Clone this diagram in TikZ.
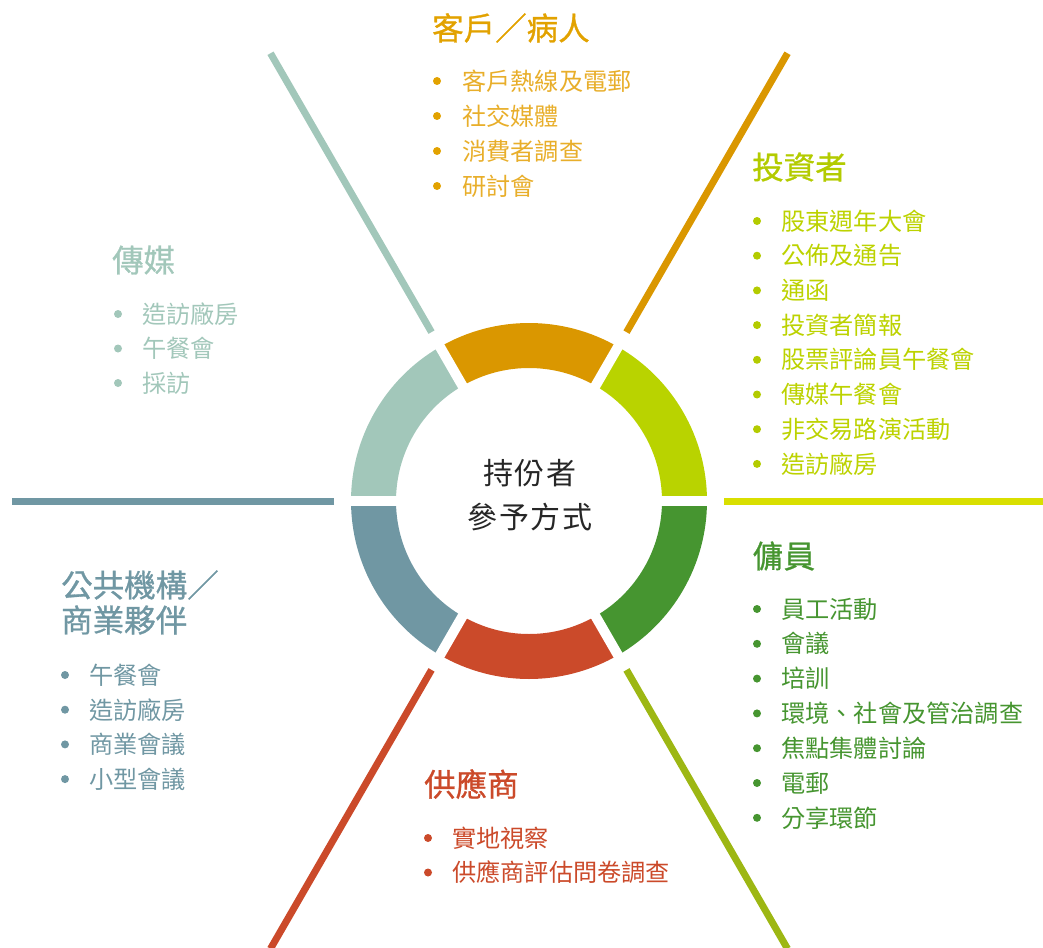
\documentclass[tikz,border=0pt]{standalone}
\usepackage{fontspec}
\newfontfamily\cjk{Noto Sans CJK TC}
\newfontfamily\cjkt[FakeBold=0.9]{Noto Sans CJK TC}
\newfontfamily\cjkc[LetterSpace=6]{Noto Sans CJK TC}
\definecolor{cOrange}{HTML}{DA9700}
\definecolor{cLime}{HTML}{B9D300}
\definecolor{cGreen}{HTML}{469530}
\definecolor{cRed}{HTML}{CB4A2A}
\definecolor{cBlue}{HTML}{7097A3}
\definecolor{cSage}{HTML}{A2C7BA}
\definecolor{cYellow}{HTML}{D9DF00}
\definecolor{cOlive}{HTML}{9DB713}
\definecolor{tOrange}{HTML}{E2A200}
\definecolor{iOrange}{HTML}{E8AE2A}
\definecolor{tLime}{HTML}{B3CB00}
\definecolor{iLime}{HTML}{BCD200}
\begin{document}
\begin{tikzpicture}[x=1pt,y=-1pt,
  title/.style={anchor=west,inner sep=0pt,font=\cjkt\fontsize{31.5}{36}\selectfont},
  item/.style={anchor=west,inner sep=0pt,font=\cjk\fontsize{24.2}{28}\selectfont},
  ray/.style={line width=7pt},
  gap/.style={white,line width=10pt}]
\useasboundingbox (0,0) rectangle (1043,947);
\coordinate (O) at (529,501);
% ring segments (angles measured clockwise on page since y points down)
\foreach \a/\b/\c in {-60/0/cLime,-120/-60/cOrange,-180/-120/cSage,120/180/cBlue,60/120/cRed,0/60/cGreen}{
  \fill[\c] ([shift={(\a:133)}]O) arc[start angle=\a,end angle=\b,radius=133]
     -- ([shift={(\b:178)}]O) arc[start angle=\b,end angle=\a,radius=178] -- cycle;
}
\foreach \a in {0,60,120,180,240,300}{
  \coordinate (g\a) at ([shift={(\a:190)}]O);
  \draw[gap] (O) -- (g\a);
}
% radial rays
\foreach \a/\c in {0/cYellow,60/cOlive,120/cRed,180/cBlue,240/cSage,300/cOrange}{
  \coordinate (r\a s) at ([shift={(\a:195)}]O);
  \coordinate (r\a e) at ([shift={(\a:517)}]O);
  \draw[ray,\c] (r\a s) -- (r\a e);
}
% centre text
\node[inner sep=0pt,font=\cjkc\fontsize{30}{34}\selectfont,text=black!85] (c1) at (530,473) {持份者};
\node[inner sep=0pt,font=\cjkc\fontsize{30}{34}\selectfont,text=black!85] (c2) at (530,517) {參予方式};
% client / patient
\node[title,text=tOrange] (T1) at (432,28) {客戶／病人};
\foreach \t [count=\i from 0] in {客戶熱線及電郵,社交媒體,消費者調查,研討會}{
  \fill[tOrange] (437,81+35*\i) circle (4);
  \node[item,text=iOrange] (a\i) at (462,81+35*\i) {\t};
}
% investors
\node[title,text=tLime] (T2) at (752,167) {投資者};
\foreach \t [count=\i from 0] in {股東週年大會,公佈及通告,通函,投資者簡報,股票評論員午餐會,傳媒午餐會,非交易路演活動,造訪廠房}{
  \fill[tLime] (757,221+34.7*\i) circle (4);
  \node[item,text=iLime] (b\i) at (781,221+34.7*\i) {\t};
}
% employees
\node[title,text=cGreen] (T3) at (752,556) {傭員};
\foreach \t [count=\i from 0] in {員工活動,會議,培訓,環境、社會及管治調查,焦點集體討論,電郵,分享環節}{
  \fill[cGreen] (757,609+34.8*\i) circle (4);
  \node[item,text=cGreen] (d\i) at (781,609+34.8*\i) {\t};
}
% suppliers
\node[title,text=cRed] (T4) at (424,784) {供應商};
\foreach \t [count=\i from 0] in {實地視察,供應商評估問卷調查}{
  \fill[cRed] (428,838+34.5*\i) circle (4);
  \node[item,text=cRed] (e\i) at (452,838+34.5*\i) {\t};
}
% media
\node[title,text=cSage] (T5) at (112,260) {傳媒};
\foreach \t [count=\i from 0] in {造訪廠房,午餐會,採訪}{
  \fill[cSage] (118,314+34.5*\i) circle (4);
  \node[item,text=cSage] (f\i) at (142,314+34.5*\i) {\t};
}
% public bodies / business partners
\node[title,text=cBlue] (T6) at (61,585) {公共機構／};
\node[title,text=cBlue] (T7) at (61,620) {商業夥伴};
\foreach \t [count=\i from 0] in {午餐會,造訪廠房,商業會議,小型會議}{
  \fill[cBlue] (65,675+34.7*\i) circle (4);
  \node[item,text=cBlue] (h\i) at (89,675+34.7*\i) {\t};
}
\end{tikzpicture}
\end{document}
